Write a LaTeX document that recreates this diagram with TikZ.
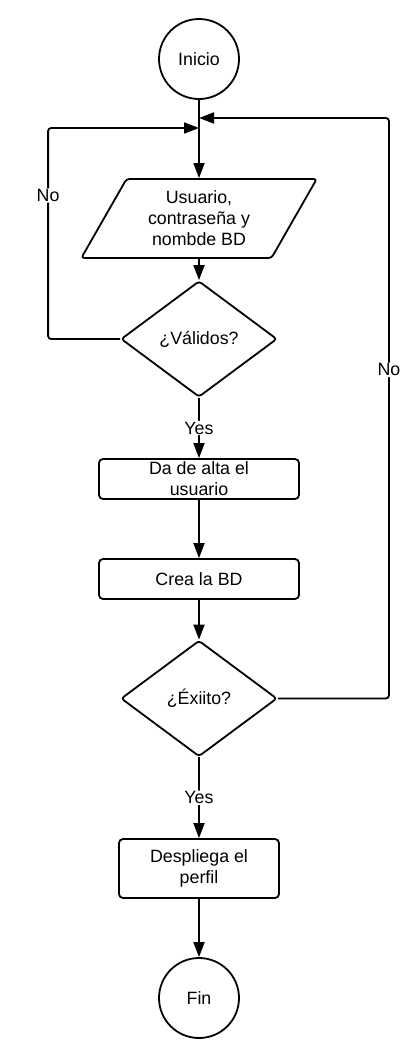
\documentclass[tikz,border=0pt]{standalone}
\usepackage{fontspec}
\setmainfont{Liberation Sans}
\usetikzlibrary{shapes.geometric,arrows.meta}
\tikzset{
  base/.style={draw,line width=1.8pt,align=center,inner sep=0pt},
  term/.style={base,circle,minimum size=80pt},
  io/.style={base,trapezium,trapezium left angle=60,trapezium right angle=120,
    trapezium stretches=true,minimum width=236pt,minimum height=79pt,rounded corners=3pt},
  decision/.style={base,diamond,aspect=1.345,minimum width=156pt,minimum height=116pt,rounded corners=3pt},
  process/.style={base,rectangle,rounded corners=4pt},
  flow/.style={line width=1.8pt,-{Triangle[length=15pt,width=11pt]},rounded corners=3pt},
  lbl/.style={fill=white,inner sep=1pt}
}
\begin{document}
\begin{tikzpicture}[x=1pt,y=-1pt,font=\fontsize{17.8}{21}\selectfont]
    % Frame
    \useasboundingbox (0,0) rectangle (420,1052);

    % Nodes
    \node[term] (inicio) at (199,59) {Inicio};
    \node[io] (datos) at (199,218.5) {Usuario,\\contraseña y\\nombde BD};
    \node[decision] (valid) at (199,339) {¿Válidos?};
    \node[process,minimum width=200pt,minimum height=40pt] (alta) at (199,479) {Da de alta el\\usuario};
    \node[process,minimum width=200pt,minimum height=40pt] (crea) at (199,579) {Crea la BD};
    \node[decision] (exito) at (199,698.5) {¿Éxiito?};
    \node[process,minimum width=160pt,minimum height=59pt] (perfil) at (199,868.5) {Despliega el\\perfil};
    \node[term] (fin) at (199,998) {Fin};

    % Joins on the first arrow
    \coordinate (jno) at (199,128);
    \coordinate (jre) at (199,118);

    % Arrows
    \draw[flow] (inicio) -- (datos);
    \draw[flow] (datos) -- (valid);
    \draw[flow] (valid) -- node[lbl]{Yes} (alta);
    \draw[flow] (alta) -- (crea);
    \draw[flow] (crea) -- (exito);
    \draw[flow] (exito) -- node[lbl]{Yes} (perfil);
    \draw[flow] (perfil) -- (fin);

    % Loops back
    \draw[flow] (valid.west) -- ++(-72,0) |- node[lbl,pos=0.34]{No} (jno);
    \draw[flow] (exito.east) -- ++(111,0) |- node[lbl,pos=0.283]{No} (jre);
\end{tikzpicture}
\end{document}
